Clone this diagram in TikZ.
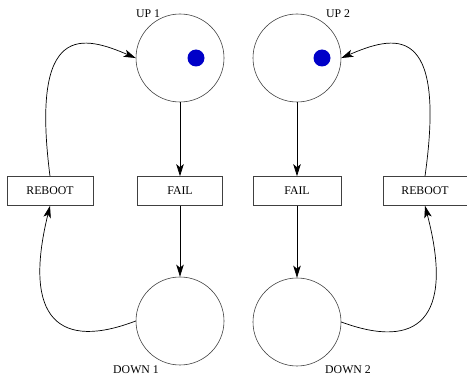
\documentclass[tikz,border=0pt]{standalone}
\usepackage{fontspec}
\setmainfont{Liberation Serif}
\usetikzlibrary{arrows.meta}
\definecolor{tokenblue}{RGB}{0,0,200}
\tikzset{
  place/.style={circle, draw=black!75, line width=0.6pt, minimum size=88pt, inner sep=0pt},
  trans/.style={rectangle, draw=black!75, line width=0.6pt, minimum height=29pt, inner sep=0pt,
    font=\fontsize{11.8}{14}\selectfont},
  lbl/.style={inner sep=0pt, font=\fontsize{11.8}{14}\selectfont},
  token/.style={circle, fill=tokenblue, minimum size=17pt, inner sep=0pt},
  arc/.style={line width=0.7pt, -{Stealth[length=12pt,width=7.5pt,inset=3pt]}}
}
\begin{document}
\begin{tikzpicture}[x=1pt,y=-1pt]
\useasboundingbox (0,0) rectangle (467,377);
% places
\node[place] (up1) at (180,58) {};
\node[place] (up2) at (297,58) {};
\node[place] (down1) at (180,321) {};
\node[place] (down2) at (297,322) {};
\node[token] (tok1) at (196,58) {};
\node[token] (tok2) at (322,58) {};
% labels
\node[lbl] (lup1) at (148,14) {UP 1};
\node[lbl] (lup2) at (338,14) {UP 2};
\node[lbl] (ldown1) at (136,370) {DOWN 1};
\node[lbl] (ldown2) at (348,370) {DOWN 2};
% transitions
\node[trans, minimum width=86pt] (reboot1) at (50,191) {REBOOT};
\node[trans, minimum width=85pt] (fail1) at (180,191) {FAIL};
\node[trans, minimum width=88pt] (fail2) at (297,191) {FAIL};
\node[trans, minimum width=84pt] (reboot2) at (425,191) {REBOOT};
% arcs
\draw[arc] (up1.south) -- (fail1.north);
\draw[arc] (fail1.south) -- (down1.north);
\draw[arc] (up2.south) -- (fail2.north);
\draw[arc] (fail2.south) -- (down2.north);
\draw[arc] (reboot1.north) .. controls (30,20) and (84,36) .. (up1.west);
\draw[arc] (down1.west) .. controls (60,350) and (22,320) .. (reboot1.south);
\draw[arc] (reboot2.north) .. controls (447,20) and (393,36) .. (up2.east);
\draw[arc] (down2.east) .. controls (417,350) and (455,320) .. (reboot2.south);
\end{tikzpicture}
\end{document}
